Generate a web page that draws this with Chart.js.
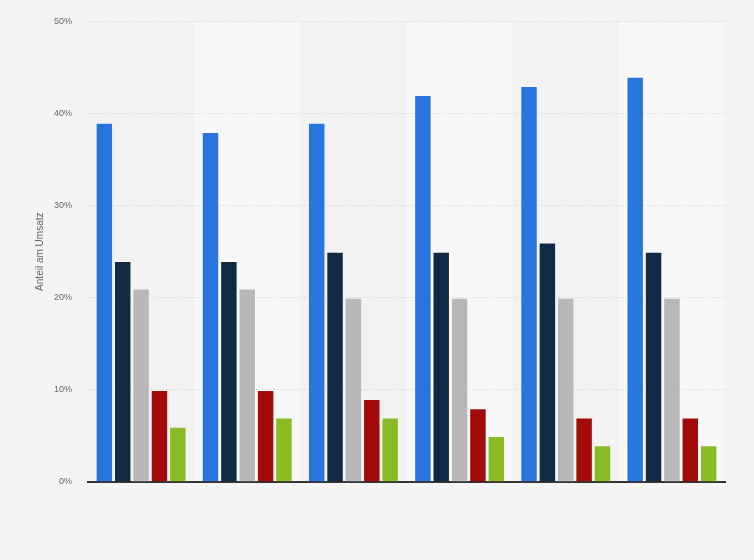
<!DOCTYPE html>
<html>
<head>
<meta charset="utf-8">
<script src="https://cdn.jsdelivr.net/npm/chart.js@4/dist/chart.umd.min.js"></script>
<style>
  html, body { margin: 0; padding: 0; background: #f4f4f4; }
  #wrap { width: 754px; height: 560px; }
</style>
</head>
<body>
<div id="wrap"><canvas id="umsatzChart"></canvas></div>
<script>
// groups have no visible labels in the picture
var groups = ['', '', '', '', '', ''];
var serieA = [39, 38, 39, 42, 43, 44];
var serieB = [24, 24, 25, 25, 26, 25];
var serieC = [21, 21, 20, 20, 20, 20];
var serieD = [10, 10, 9, 8, 7, 7];
var serieE = [6, 7, 7, 5, 4, 4];
var yTicks = [0, 10, 20, 30, 40, 50];

var colors = ['#2876dd', '#0f2a42', '#b8b8b8', '#a30b0b', '#8aba24'];
var allSeries = [serieA, serieB, serieC, serieD, serieE];

// background + alternating column bands
var bandPlugin = {
    id: 'bands',
    beforeDraw: function(chart) {
        var ctx = chart.ctx;
        var area = chart.chartArea;
        ctx.save();
        ctx.fillStyle = '#f4f4f4';
        ctx.fillRect(0, 0, chart.width, chart.height);
        var w = (area.right - area.left) / groups.length;
        for (var i = 0; i < groups.length; i++) {
            ctx.fillStyle = (i % 2 == 0) ? '#f2f2f2' : '#f8f8f8';
            ctx.fillRect(area.left + i * w, area.top, w, area.bottom - area.top);
        }
        ctx.restore();
    }
};

var datasets = allSeries.map(function(data, i) {
    return {
        data: data,
        backgroundColor: colors[i],
        borderColor: 'rgba(255,255,255,0.3)',
        borderWidth: 1,
        categoryPercentage: 0.865,
        barPercentage: 0.95
    };
});

new Chart(document.getElementById('umsatzChart'), {
    type: 'bar',
    data: { labels: groups, datasets: datasets },
    options: {
        responsive: true,
        maintainAspectRatio: false,
        animation: false,
        layout: { padding: { left: 0, right: 29, top: 20, bottom: 70 } },
        plugins: {
            legend: { display: false },
            tooltip: { enabled: false }
        },
        scales: {
            x: {
                grid: { display: false },
                ticks: { display: false },
                border: { display: true, color: '#333333', width: 2 }
            },
            y: {
                min: 0,
                max: 50,
                afterBuildTicks: function(s) {
                    s.ticks = yTicks.map(function(v) { return { value: v }; });
                },
                afterFit: function(s) { s.width = 88; },
                ticks: {
                    color: '#666666',
                    font: { family: 'Arial, Liberation Sans, sans-serif', size: 9 },
                    padding: 16,
                    callback: function(v) { return v + '%'; }
                },
                grid: {
                    color: '#cfcfcf',
                    drawTicks: false,
                    lineWidth: 1
                },
                border: { display: false, dash: [1, 2] },
                title: {
                    display: true,
                    text: 'Anteil am Umsatz',
                    color: '#666666',
                    font: { family: 'Arial, Liberation Sans, sans-serif', size: 10 },
                    padding: { top: 34, bottom: 0 }
                }
            }
        }
    },
    plugins: [bandPlugin]
});
</script>
</body>
</html>
